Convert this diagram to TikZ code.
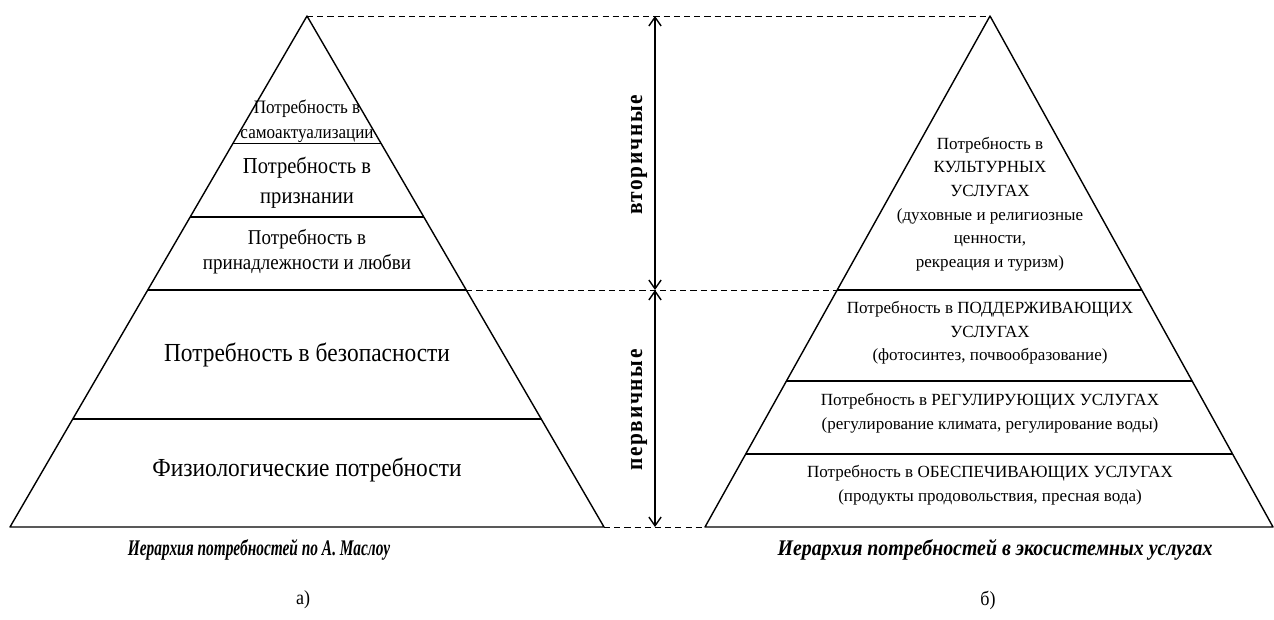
\documentclass[tikz,border=0pt]{standalone}
\usepackage{fontspec}
\setmainfont{Liberation Serif}[FakeStretch=0.9]
\newfontfamily\ecofont{Liberation Serif}
\newfontfamily\capfont{Liberation Serif}[FakeStretch=0.69]
\newfontfamily\capwidefont{Liberation Serif}[FakeStretch=0.89]
\usetikzlibrary{arrows.meta,calc,positioning}
\tikzset{
  level/.style={align=center,inner sep=0pt},
  eco/.style={level,font=\ecofont\fontsize{9.7}{13.4}\selectfont},
  side/.style={font=\bfseries\addfontfeature{LetterSpace=7}\fontsize{13.5}{14}\selectfont,rotate=90,inner sep=0pt},
  caption/.style={font=\capfont\bfseries\itshape\fontsize{12.7}{14}\selectfont,inner sep=0pt},
  widecaption/.style={font=\capwidefont\bfseries\itshape\fontsize{12.7}{14}\selectfont,inner sep=0pt},
  sublbl/.style={font=\fontsize{11.4}{12}\selectfont,inner sep=0pt},
  pyr/.style={thick,line join=round},
  guide/.style={thin,dash pattern=on 3.5pt off 2.3pt},
  span/.style={thick,{Straight Barb[length=5pt,width=7pt]}-{Straight Barb[length=5pt,width=7pt]}}
}
\begin{document}
\begin{tikzpicture}[x=0.02cm,y=-0.02cm]
\useasboundingbox (0,0) rectangle (1274,619);
\coordinate (LA) at (307,16);
\coordinate (LB) at (10,527);
\coordinate (LC) at (604,527);
\coordinate (RA) at (990,16);
\coordinate (RB) at (705,527);
\coordinate (RC) at (1273,527);
\draw[pyr] (LA) -- (LB) -- (LC) -- cycle;
\draw[pyr] (RA) -- (RB) -- (RC) -- cycle;
\foreach \t in {0.25,0.393,0.536,0.789}
  \draw[pyr] ($(LA)!\t!(LB)$) -- ($(LA)!\t!(LC)$);
\foreach \t in {0.536,0.714,0.857}
  \draw[pyr] ($(RA)!\t!(RB)$) -- ($(RA)!\t!(RC)$);
\coordinate (LM) at ($(LA)!0.536!(LC)$);
\coordinate (RM) at ($(RA)!0.536!(RB)$);
\draw[guide] (LA) -- (RA);
\draw[guide] (LM) -- (RM);
\draw[guide] (LC) -- (RB);
\coordinate (T) at (655,16);
\coordinate (M) at (655,290);
\coordinate (B) at (655,527);
\draw[span] (T) -- (M);
\draw[span] (M) -- (B);
\node[side] (sec) at (639,155) {вторичные};
\node[side] (prim) at (639,410) {первичные};
\node[level,font=\fontsize{10.8}{14.2}\selectfont] (l1) at (307,121) {Потребность в\\самоактуализации};
\node[level,font=\fontsize{13}{17}\selectfont] (l2) at (307,183) {Потребность в\\признании};
\node[level,font=\fontsize{12}{14.2}\selectfont] (l3) at (307,252) {Потребность в\\принадлежности и любви};
\node[level,font=\fontsize{14.8}{17}\selectfont] (l4) at (307,355) {Потребность в безопасности};
\node[level,font=\fontsize{14.8}{17}\selectfont] (l5) at (307,470) {Физиологические потребности};
\node[eco] (r1) at (990,204) {Потребность в\\КУЛЬТУРНЫХ\\УСЛУГАХ\\(духовные и религиозные\\ценности,\\рекреация и туризм)};
\node[eco] (r2) at (990,333) {Потребность в ПОДДЕРЖИВАЮЩИХ\\УСЛУГАХ\\(фотосинтез, почвообразование)};
\node[eco] (r3) at (990,413) {Потребность в РЕГУЛИРУЮЩИХ УСЛУГАХ\\(регулирование климата, регулирование воды)};
\node[eco] (r4) at (990,485) {Потребность в ОБЕСПЕЧИВАЮЩИХ УСЛУГАХ\\(продукты продовольствия, пресная вода)};
\node[caption] (capL) at (259,550) {Иерархия потребностей по А. Маслоу};
\node[widecaption] (capR) at (995,550) {Иерархия потребностей в экосистемных услугах};
\node[sublbl] (a) at (303,600) {а)};
\node[sublbl] (b) at (988,600) {б)};
\end{tikzpicture}
\end{document}
